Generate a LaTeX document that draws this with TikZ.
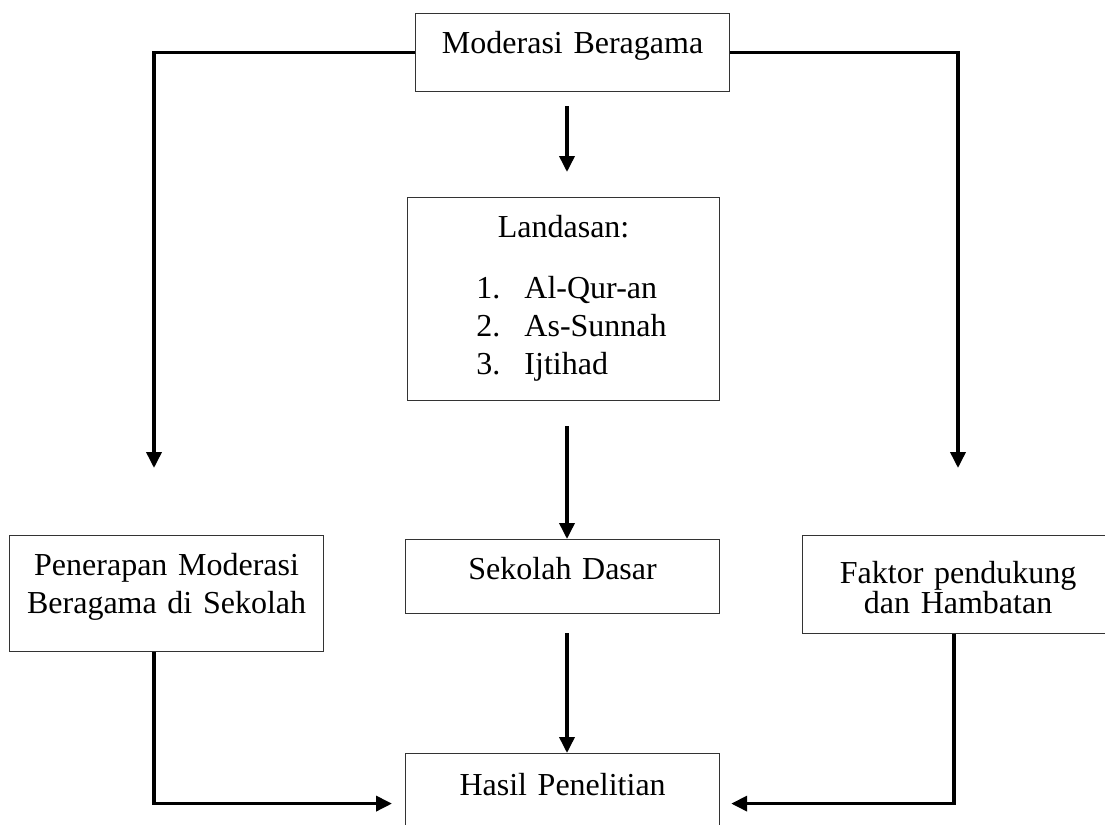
\documentclass[tikz,border=0pt]{standalone}
\usepackage{fontspec}
\setmainfont{Liberation Serif}
\usetikzlibrary{arrows.meta}

\tikzset{
  kotak/.style={draw=black!80, line width=0.6pt, anchor=north west, inner sep=0pt,
    align=center, font=\fontsize{16pt}{19pt}\selectfont},
  panah/.style={line width=1.8pt, -{Triangle[length=8pt,width=7.5pt]}}
}

\begin{document}
\begin{tikzpicture}[x=0.5pt,y=-0.5pt]
        \useasboundingbox (0,0) rectangle (1105,825);

        \node[kotak, text width=157pt, text height=20pt, text depth=19pt] (mod) at (415,13) {Moderasi Beragama};
        \node[kotak, text width=156pt, text height=20pt, text depth=81.5pt] (lan) at (407,197)
            {Landasan:\\[11.5pt]\hspace*{8pt}\begin{tabular}[t]{@{}p{24pt}@{}l@{}}1. & Al-Qur-an\\ 2. & As-Sunnah\\ 3. & Ijtihad\end{tabular}};
        \node[kotak, text width=157pt, text height=20pt, text depth=17pt] (sek) at (405,539) {Sekolah Dasar};
        \node[kotak, text width=157pt, text height=20pt, text depth=38pt] (pen) at (9,535) {Penerapan Moderasi\\Beragama di Sekolah};
        \node[kotak, text width=155.5pt, text height=24pt, text depth=25pt,
              font=\fontsize{16pt}{15pt}\selectfont] (fak) at (802,535) {Faktor pendukung\\dan Hambatan};
        \node[kotak, text width=157pt, text height=21pt, text depth=29pt] (has) at (405,753) {Hasil Penelitian};

        \coordinate (kiri) at (154,468);
        \coordinate (kanan) at (958,468);
        \coordinate (tengah) at (567,0);
        \coordinate (kananbawah) at (954,0);

        \draw[panah] (mod.west) -| (kiri);
        \draw[panah] (mod.east) -| (kanan);
        \draw[panah, shorten <=7pt, shorten >=12.5pt] (tengah |- mod.south) -- (tengah |- lan.north);
        \draw[panah, shorten <=12.5pt] (tengah |- lan.south) -- (tengah |- sek.north);
        \draw[panah, shorten <=9.5pt] (tengah |- sek.south) -- (tengah |- has.north);
        \draw[panah, shorten >=6.5pt] (kiri |- pen.south) |- (has.west);
        \draw[panah, shorten >=5.5pt] (kananbawah |- fak.south) |- (has.east);
    \end{tikzpicture}
\end{document}
